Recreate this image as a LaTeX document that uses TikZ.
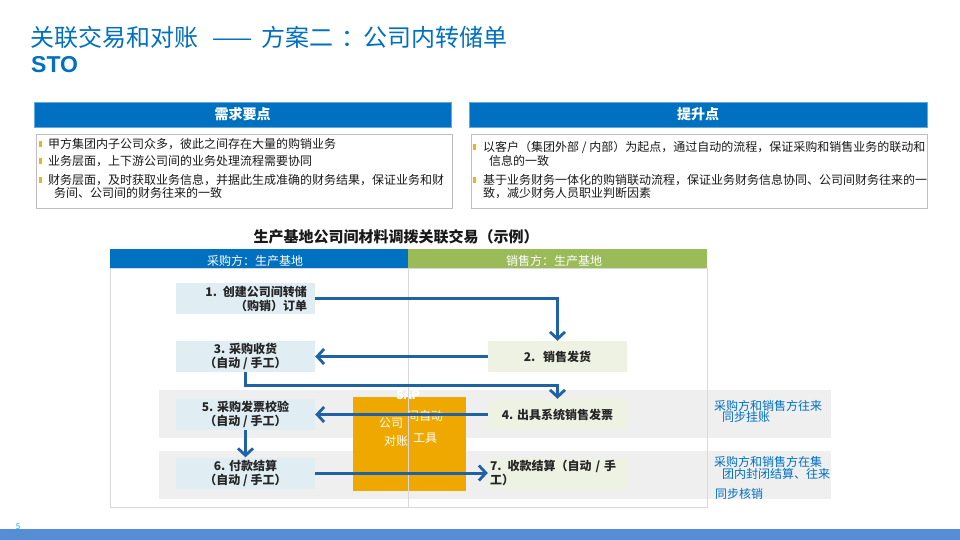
\documentclass[tikz,border=0pt]{standalone}
\usepackage{fontspec}
\setmainfont{Noto Sans CJK SC}
\newfontfamily\arialf{Liberation Sans}
\usetikzlibrary{arrows.meta}
\definecolor{tblue}{HTML}{0070C0}
\definecolor{hgreen}{HTML}{9BBB59}
\definecolor{arrblue}{HTML}{1F62A6}
\definecolor{lbfill}{HTML}{E0EEF4}
\definecolor{lgfill}{HTML}{EEF2E3}
\definecolor{bandg}{HTML}{EFEFEF}
\definecolor{borderg}{HTML}{BFBFBF}
\definecolor{laneg}{HTML}{D9D9D9}
\definecolor{orangeb}{HTML}{EEA800}
\definecolor{bulleto}{HTML}{F2B01E}
\definecolor{barblue}{HTML}{558ED5}
\definecolor{pgnum}{HTML}{00B0F0}
\newcommand{\sz}[2]{\fontsize{#1}{#2}\selectfont}
\begin{document}
\begin{tikzpicture}[x=1pt,y=-1pt,
  txt/.style={inner sep=0pt, anchor=west, font=\sz{12}{14}, text=black!90},
  headbox/.style={fill=tblue, draw=tblue!60!white, line width=0.6pt},
  headtxt/.style={inner sep=0pt, text=white, font=\sz{14}{16}\bfseries},
  contentbox/.style={draw=borderg, line width=0.8pt},
  bul/.style={fill=bulleto, draw=none},
  lbox/.style={fill=lbfill, minimum width=139pt, minimum height=31pt, inner sep=0pt, font=\sz{12}{14}\bfseries, text=black!85, align=center},
  gbox/.style={fill=lgfill, minimum width=139pt, minimum height=31pt, inner sep=0pt, font=\sz{12}{14}\bfseries, text=black!85, align=center},
  flow/.style={draw=arrblue, line width=3pt, -{Straight Barb[length=7pt,width=15pt,line width=2.8pt]}},
  note/.style={inner sep=0pt, anchor=west, text=tblue, font=\sz{12}{13}},
  otxt/.style={inner sep=0pt, text=white, font=\sz{12}{14}},
]
\useasboundingbox (0,0) rectangle (960,540);
\fill[white] (0,0) rectangle (960,540);

% title
\node[inner sep=0pt, anchor=west, text=tblue, font=\sz{24}{28}] (title) at (30,37) {关联交易和对账\hspace{14pt}——\hspace{9pt}方案二\hspace{8pt}：\hspace{-2pt}公司内转储单};
\node[inner sep=0pt, anchor=west, text=tblue, font=\arialf\sz{23}{26}\bfseries] (sto) at (31,65) {STO};

% header boxes
\draw[headbox] (34,102) rectangle (451,127);
\node[headtxt] (h1) at (242.5,114.5) {需求要点};
\draw[headbox] (469,102) rectangle (927,127);
\node[headtxt] (h2) at (698,114.5) {提升点};

% content boxes
\draw[contentbox] (36,134) rectangle (452,208);
\draw[contentbox] (471,134) rectangle (927,208);

% left bullets
\fill[bul] (38.5,141) rectangle (41.5,147);
\fill[bul] (38.5,158) rectangle (41.5,164);
\fill[bul] (38.5,177) rectangle (41.5,183);
\node[txt] (l1) at (48,144) {甲方集团内子公司众多，彼此之间存在大量的购销业务};
\node[txt] (l2) at (48,161) {业务层面，上下游公司间的业务处理流程需要协同};
\node[txt] (l3) at (48,180) {财务层面，及时获取业务信息，并据此生成准确的财务结果，保证业务和财};
\node[txt] (l3b) at (54,193) {务间、公司间的财务往来的一致};

% right bullets
\fill[bul] (473,144) rectangle (476,150);
\fill[bul] (473,177) rectangle (476,183);
\node[txt] (r1) at (483,147) {以客户（集团外部 / 内部）为起点，通过自动的流程，保证采购和销售业务的联动和};
\node[txt] (r1b) at (489,161) {信息的一致};
\node[txt] (r2) at (483,180) {基于业务财务一体化的购销联动流程，保证业务财务信息协同、公司间财务往来的一};
\node[txt] (r2b) at (483,193) {致，减少财务人员职业判断因素};

% chart title
\node[inner sep=0pt, font=\sz{15}{17}\bfseries, text=black!90] (ctitle) at (396,237) {生产基地公司间材料调拨关联交易（示例）};

% bands
\fill[bandg] (159,390) rectangle (831,438);
\fill[bandg] (159,451) rectangle (831,499);

% lanes
\fill[tblue] (110,249) rectangle (408,268);
\fill[hgreen] (408,249) rectangle (707,268);
\node[inner sep=0pt, text=white, font=\sz{12}{14}] (lh1) at (255,261) {采购方：生产基地};
\node[inner sep=0pt, text=white, font=\sz{12}{14}] (lh2) at (554,261) {销售方：生产基地};

% orange box
\fill[orangeb] (353,397) rectangle (466,491);
\node[otxt, font=\sz{12}{14}\bfseries] (sap) at (408,395) {SAP};
\node[otxt] (o1) at (425,416) {间自动};
\node[otxt] (o2) at (391,423) {公司};
\node[otxt] (o3) at (425,438) {工具};
\node[otxt] (o4) at (396,441) {对账};

% lane border and divider
\draw[laneg, line width=0.8pt] (110,268) rectangle (707,507);
\draw[laneg, line width=0.8pt] (408,268) -- (408,507);

% process boxes
\node[lbox, align=right, text width=123pt] (b1) at (245.5,298.5) {\textbf{1.} 创建公司间转储\hspace*{9pt}\\（购销）订单};
\node[gbox] (b2) at (557.5,356.5) {2.\hspace{4pt} 销售发货};
\node[lbox] (b3) at (245.5,356.5) {3. 采购收货\\（自动 / 手工）};
\node[gbox] (b4) at (557.5,414.5) {4. 出具系统销售发票};
\node[lbox] (b5) at (245.5,414.5) {5. 采购发票校验\\（自动 / 手工）};
\node[lbox] (b6) at (245.5,473) {6. 付款结算\\（自动 / 手工）};
\node[gbox, align=left, text width=135pt] (b7) at (557.5,473) {7. 收款结算（自动 / 手\\工）};

% arrows
\draw[flow] (b1.east) -| (b2.north);
\draw[flow] (b2.west) -- (b3.east);
\draw[flow] (b3.south) -- ++(0,13) -| (b4.north);
\draw[flow] (b4.west) -- (b5.east);
\draw[flow] (b5.south) -- (b6.north);
\draw[flow] (b6.east) -- (b7.west);

% notes
\node[note] (n1) at (714,406) {采购方和销售方往来};
\node[note] (n1b) at (722,417) {同步挂账};
\node[note] (n2) at (714,462) {采购方和销售方在集};
\node[note] (n2b) at (722,474) {团内封闭结算、往来};
\node[note] (n2c) at (715,494) {同步核销};

% bottom bar
\fill[barblue] (0,529) rectangle (960,540);
\node[inner sep=0pt, text=pgnum, font=\sz{8}{9}] (pg) at (18,527) {5};
\end{tikzpicture}
\end{document}
